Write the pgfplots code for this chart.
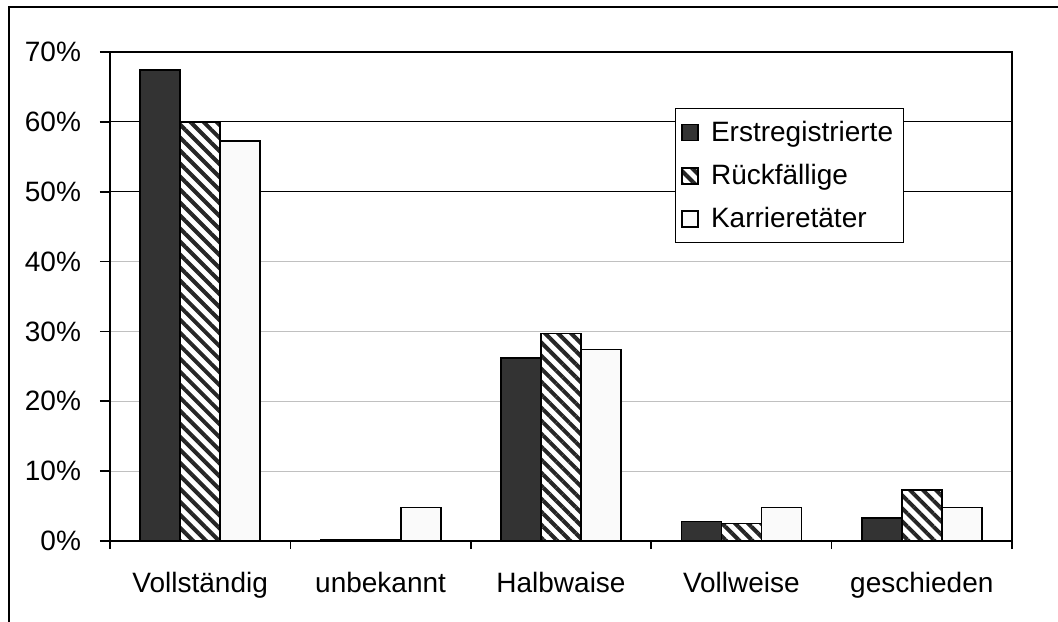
\documentclass[border=0pt]{standalone}
\usepackage{fontspec}
\setmainfont{Liberation Sans}
\usepackage{pgfplots}
\pgfplotsset{compat=1.18}
\usetikzlibrary{patterns.meta}
\definecolor{darkbar}{HTML}{333333}
\definecolor{lightbar}{HTML}{FAFAFA}
\definecolor{gridgray}{HTML}{C0C0C0}
\begin{document}
\begin{tikzpicture}[font=\fontsize{14pt}{16pt}\selectfont]
\path[use as bounding box] (-55pt,-40pt) rectangle (474pt,270.5pt);
\draw[line width=0.8pt] (-50.5pt,-45pt) -- (-50.5pt,267pt) -- (480pt,267pt);
\begin{axis}[
  at={(0,0)}, anchor=south west,
  scale only axis, width=451pt, height=244.5pt,
  xmin=-0.5, xmax=4.5, ymin=0, ymax=70,
  ybar, bar width=20pt,
  axis line style={line width=0.9pt},
  tick align=outside,
  xtick pos=bottom, ytick pos=left,
  xtick={0,...,4},
  xticklabels={Vollständig,unbekannt,Halbwaise,Vollweise,geschieden},
  major x tick style={draw=none},
  minor xtick={-0.5,0.5,...,4.5},
  minor x tick style={line width=0.8pt, black},
  minor tick length=4pt,
  major tick length=5pt,
  ytick={0,10,...,70},
  y tick style={line width=0.8pt, black},
  yticklabel={\pgfmathprintnumber{\tick}\%},
  /pgf/number format/assume math mode=true,
  xticklabel style={yshift=-7pt},
  yticklabel style={xshift=-6pt},
  ymajorgrids,
  major grid style={gridgray, line width=0.6pt},
  extra y ticks={50,60},
  extra y tick labels={},
  extra y tick style={grid=major, major grid style={black, line width=0.6pt}},
  every axis plot post/.append style={legend image code/.code={\draw[#1] (0pt,-4pt) rectangle (8pt,4pt); \path (12pt,0pt);}},
  legend style={at={(rel axis cs:0.626,0.885)}, anchor=north west, draw=black, line width=0.6pt,
    font=\fontsize{14pt}{16pt}\selectfont, row sep=6pt, inner xsep=3pt, inner ysep=4pt,
    cells={anchor=west}},
  legend cell align=left,
]
\addplot[fill=darkbar, draw=black, line width=0.9pt, bar shift=-20pt]
  coordinates {(0,67.4) (1,0.2) (2,26.2) (3,2.8) (4,3.3)};
\addlegendentry{Erstregistrierte}
\addplot[preaction={fill=white}, pattern={Lines[angle=-45,distance=4.6pt,line width=2pt]}, pattern color=black!85, draw=black, line width=0.9pt, bar shift=0pt]
  coordinates {(0,59.9) (1,0.2) (2,29.7) (3,2.5) (4,7.3)};
\addlegendentry{Rückfällige}
\addplot[fill=lightbar, draw=black, line width=0.9pt, bar shift=20pt]
  coordinates {(0,57.3) (1,4.8) (2,27.4) (3,4.8) (4,4.8)};
\addlegendentry{Karrieretäter}
\end{axis}
\end{tikzpicture}
\end{document}
